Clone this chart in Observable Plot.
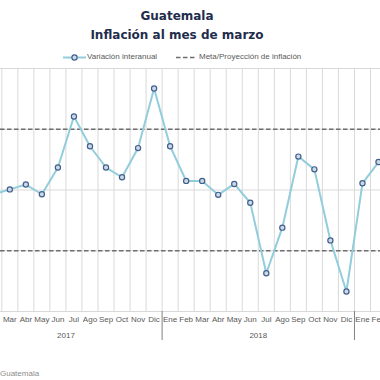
<!DOCTYPE html>
<html><head><meta charset="utf-8">
<script src="https://cdn.jsdelivr.net/npm/d3@7"></script>
<script src="https://cdn.jsdelivr.net/npm/@observablehq/plot@0.6"></script>
<style>
body{margin:0;background:#fff;}
#wrap{position:relative;width:380px;height:380px;overflow:hidden;background:#fff;font-family:"Liberation Sans",Arial,sans-serif;}
.t{position:absolute;left:0;width:354px;text-align:center;font-family:"DejaVu Sans",sans-serif;font-weight:bold;font-size:12px;line-height:14px;color:#1f2d4d;white-space:nowrap}
.lg{position:absolute;font-size:8px;line-height:10px;color:#595959;white-space:nowrap}
#chart{position:absolute;left:0;top:62px;}
</style></head><body>
<div id="wrap">
  <div class="t" style="top:9px">Guatemala</div>
  <div class="t" style="top:28px">Inflación al mes de marzo</div>
  <svg style="position:absolute;left:0;top:50px" width="380" height="14">
    <line x1="63" x2="86" y1="7.5" y2="7.5" stroke="#92cddc" stroke-width="2"/>
    <circle cx="74.5" cy="7.5" r="2.6" fill="#cfd8e6" stroke="#41608d" stroke-width="1.2"/>
    <line x1="176" x2="196" y1="7.5" y2="7.5" stroke="#6e6e6e" stroke-width="1.5" stroke-dasharray="4.5,2.5"/>
  </svg>
  <div class="lg" style="left:87px;top:52px">Variación interanual</div>
  <div class="lg" style="left:199px;top:52px">Meta/Proyección de inflación</div>
  <div id="chart"></div>
  <div class="lg" style="left:0;top:369px;color:#8c8c8c">Guatemala</div>
</div>
<script>
const months = ["Feb","Mar","Abr","May","Jun","Jul","Ago","Sep","Oct","Nov","Dic",
                "Ene","Feb","Mar","Abr","May","Jun","Jul","Ago","Sep","Oct","Nov","Dic",
                "Ene","Feb"];
const values = [3.93,4.01,4.09,3.93,4.37,5.21,4.72,4.37,4.21,4.69,5.67,
                4.72,4.15,4.15,3.92,4.10,3.79,2.63,3.38,4.55,4.34,3.17,2.33,
                4.11,4.46];
const years = ["2017","2018"];
const metaBand = [3,5];
const yTicks = [2,3,4,5,6];

const idx = months.map((_, i) => i);
const labelIdx = idx.slice(1); // first month falls outside the visible frame
const data = idx.map(i => ({i, m: months[i], v: values[i]}));
const dic = idx.filter(i => months[i] === "Dic");
const yearData = years.map((y, k) => ({y, x: (dic[k] - 11 + dic[k]) / 2}));
const sep = dic.map(i => i + 0.5);
const grid = d3.range(-1, months.length + 1).map(i => i + 0.5);

const chart = Plot.plot({
  width: 380, height: 300,
  marginTop: 6, marginBottom: 51, marginLeft: 0, marginRight: 0,
  x: {domain: [0, 24], range: [-6.7, 378]},
  y: {domain: [2, 6], axis: null},
  style: {fontFamily: "Liberation Sans, Arial, sans-serif", fontSize: "8px", background: "white", overflow: "hidden"},
  marks: [
    Plot.ruleX(grid, {x: d => d, y1: 2, y2: 6, stroke: "#d9d9d9", strokeWidth: 1}),
    Plot.ruleY(yTicks, {y: d => d, stroke: "#d9d9d9", strokeWidth: 1}),
    Plot.ruleY(metaBand, {y: d => d, stroke: "#6e6e6e", strokeWidth: 1.5, strokeDasharray: "4.5,2.5"}),
    Plot.line(data, {x: "i", y: "v", stroke: "#92cddc", strokeWidth: 2}),
    Plot.dot(data, {x: "i", y: "v", r: 2.6, stroke: "#41608d", fill: "#cfd8e6", strokeWidth: 1.2}),
    Plot.text(labelIdx, {x: d => d, text: d => months[d], frameAnchor: "bottom", dy: 10, fill: "#595959"}),
    Plot.text(yearData, {x: "x", text: "y", frameAnchor: "bottom", dy: 26, fill: "#595959"}),
    Plot.axisX({ticks: sep, tickSize: 29, tickFormat: () => "", stroke: "#808080", label: null})
  ]
});
document.getElementById("chart").appendChild(chart);
</script>
</body></html>
